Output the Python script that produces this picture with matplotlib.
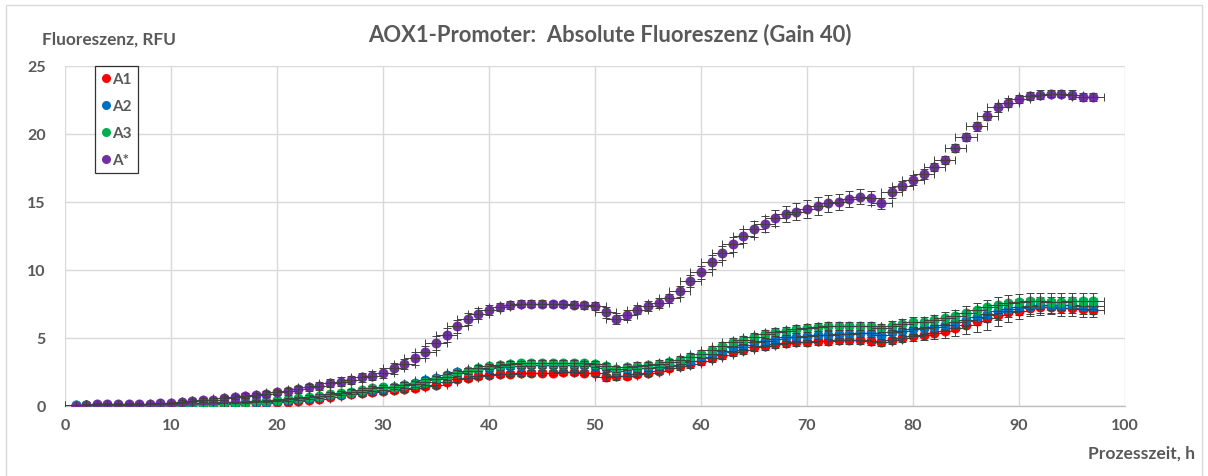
import matplotlib
matplotlib.use("Agg")
import matplotlib.pyplot as plt
from matplotlib.patches import Rectangle
from matplotlib.lines import Line2D

# Process time (h)
hours = list(range(1, 98))

# Mean fluorescence (RFU) per culture
a1 = [0.03, 0.05, 0.05, 0.05, 0.05, 0.05, 0.05, 0.07, 0.08, 0.08,
      0.10, 0.12, 0.13, 0.15, 0.17, 0.18, 0.20, 0.22, 0.24, 0.26,
      0.29, 0.35, 0.46, 0.54, 0.66, 0.78, 0.86, 0.95, 1.00, 1.07,
      1.15, 1.22, 1.35, 1.46, 1.57, 1.80, 1.95, 2.05, 2.18, 2.25,
      2.35, 2.38, 2.40, 2.43, 2.45, 2.45, 2.48, 2.48, 2.45, 2.45,
      2.11, 2.18, 2.23, 2.35, 2.45, 2.57, 2.80, 2.95, 3.10, 3.28,
      3.50, 3.75, 3.95, 4.12, 4.31, 4.43, 4.56, 4.63, 4.68, 4.73,
      4.75, 4.80, 4.85, 4.85, 4.88, 4.80, 4.68, 4.88, 5.02, 5.12,
      5.22, 5.37, 5.49, 5.71, 5.96, 6.23, 6.47, 6.72, 6.89, 7.01,
      7.18, 7.26, 7.30, 7.20, 7.20, 7.13, 7.08]
a2 = [0.05, 0.07, 0.08, 0.08, 0.08, 0.08, 0.08, 0.10, 0.10, 0.10,
      0.10, 0.15, 0.17, 0.20, 0.22, 0.25, 0.28, 0.30, 0.33, 0.38,
      0.42, 0.48, 0.58, 0.65, 0.78, 0.88, 0.95, 1.08, 1.20, 1.30,
      1.40, 1.55, 1.72, 1.90, 2.05, 2.25, 2.50, 2.60, 2.70, 2.80,
      2.88, 2.93, 2.97, 3.00, 3.00, 3.00, 3.00, 3.00, 2.98, 2.95,
      2.78, 2.60, 2.70, 2.78, 2.83, 2.90, 3.05, 3.20, 3.33, 3.58,
      3.82, 4.07, 4.36, 4.49, 4.73, 4.80, 4.93, 5.05, 5.10, 5.17,
      5.24, 5.24, 5.29, 5.29, 5.37, 5.37, 5.22, 5.42, 5.54, 5.66,
      5.71, 5.83, 5.98, 6.15, 6.35, 6.52, 6.76, 6.96, 7.13, 7.26,
      7.37, 7.43, 7.43, 7.43, 7.43, 7.37, 7.37]
a3 = [0.05, 0.08, 0.10, 0.10, 0.10, 0.10, 0.10, 0.10, 0.12, 0.12,
      0.12, 0.20, 0.20, 0.22, 0.27, 0.28, 0.32, 0.34, 0.37, 0.44,
      0.50, 0.56, 0.66, 0.71, 0.86, 0.96, 1.05, 1.18, 1.30, 1.37,
      1.42, 1.54, 1.64, 1.79, 1.95, 2.12, 2.43, 2.60, 2.77, 2.92,
      3.04, 3.10, 3.14, 3.16, 3.16, 3.16, 3.16, 3.16, 3.14, 3.10,
      2.92, 2.72, 2.87, 2.96, 3.01, 3.10, 3.21, 3.38, 3.60, 3.84,
      4.12, 4.43, 4.68, 4.88, 5.05, 5.29, 5.46, 5.54, 5.66, 5.73,
      5.83, 5.86, 5.86, 5.90, 5.90, 5.90, 5.73, 5.90, 6.05, 6.15,
      6.20, 6.32, 6.47, 6.64, 6.84, 7.06, 7.26, 7.43, 7.57, 7.62,
      7.70, 7.70, 7.68, 7.68, 7.72, 7.70, 7.70]
a_star = [0.00, 0.10, 0.15, 0.15, 0.15, 0.15, 0.15, 0.17, 0.20, 0.22,
          0.32, 0.39, 0.44, 0.47, 0.56, 0.64, 0.76, 0.81, 0.88, 1.00,
          1.08, 1.22, 1.37, 1.50, 1.67, 1.80, 1.93, 2.10, 2.23, 2.43,
          2.77, 3.09, 3.50, 3.99, 4.63, 5.22, 5.86, 6.40, 6.80, 7.07,
          7.27, 7.43, 7.52, 7.52, 7.52, 7.50, 7.50, 7.45, 7.40, 7.35,
          6.90, 6.42, 6.70, 7.08, 7.35, 7.57, 7.92, 8.42, 9.20, 9.82,
          10.60, 11.25, 11.90, 12.50, 13.00, 13.40, 13.80, 14.10, 14.30, 14.50,
          14.70, 14.90, 15.00, 15.20, 15.40, 15.30, 14.90, 15.70, 16.20, 16.60,
          17.06, 17.55, 18.10, 18.95, 19.75, 20.56, 21.35, 21.96, 22.30, 22.55,
          22.80, 22.90, 22.95, 22.95, 22.90, 22.75, 22.70]

# Standard deviations (RFU)
a1_err = [0.03] * 10 + [0.05, 0.05, 0.06, 0.06, 0.07, 0.07, 0.08, 0.08, 0.09, 0.10,
                        0.12, 0.13, 0.14, 0.15, 0.16, 0.17, 0.18, 0.18, 0.19, 0.20,
                        0.20, 0.21, 0.22, 0.22, 0.23, 0.23, 0.22, 0.22, 0.21, 0.20,
                        0.20, 0.20, 0.20, 0.20, 0.20, 0.20, 0.20, 0.20, 0.20, 0.22,
                        0.25, 0.25, 0.25, 0.25, 0.25, 0.25, 0.26, 0.27, 0.28, 0.28,
                        0.30, 0.30, 0.30, 0.30, 0.30, 0.30, 0.30, 0.30, 0.30, 0.30,
                        0.30, 0.30, 0.30, 0.30, 0.30, 0.30, 0.30, 0.32, 0.34, 0.36,
                        0.40, 0.45, 0.50, 0.55, 0.65, 0.80, 0.85, 0.85, 0.75, 0.60,
                        0.55, 0.55, 0.55, 0.55, 0.55, 0.55, 0.55]
a2_err = [0.03] * 10 + [0.05, 0.05, 0.06, 0.06, 0.07, 0.07, 0.08, 0.08, 0.09, 0.10,
                        0.12, 0.13, 0.14, 0.15, 0.16, 0.17, 0.18, 0.18, 0.19, 0.20,
                        0.20, 0.21, 0.22, 0.22, 0.23, 0.23, 0.22, 0.22, 0.21, 0.20,
                        0.20, 0.20, 0.20, 0.20, 0.20, 0.20, 0.20, 0.20, 0.20, 0.22,
                        0.25, 0.25, 0.25, 0.25, 0.25, 0.25, 0.26, 0.27, 0.28, 0.28,
                        0.30, 0.30, 0.30, 0.30, 0.30, 0.30, 0.30, 0.30, 0.30, 0.30,
                        0.30, 0.30, 0.30, 0.30, 0.30, 0.30, 0.30, 0.32, 0.34, 0.36,
                        0.38, 0.40, 0.42, 0.45, 0.50, 0.55, 0.60, 0.60, 0.60, 0.60,
                        0.60, 0.60, 0.60, 0.60, 0.60, 0.60, 0.60]
a3_err = [0.03] * 10 + [0.05, 0.05, 0.06, 0.06, 0.07, 0.07, 0.08, 0.08, 0.09, 0.10,
                        0.12, 0.13, 0.14, 0.15, 0.16, 0.17, 0.18, 0.18, 0.19, 0.20,
                        0.20, 0.21, 0.22, 0.22, 0.23, 0.23, 0.22, 0.22, 0.21, 0.20,
                        0.20, 0.20, 0.20, 0.20, 0.20, 0.20, 0.20, 0.20, 0.20, 0.22,
                        0.25, 0.25, 0.25, 0.25, 0.25, 0.25, 0.26, 0.27, 0.28, 0.28,
                        0.30, 0.30, 0.30, 0.30, 0.30, 0.30, 0.30, 0.30, 0.30, 0.30,
                        0.30, 0.30, 0.30, 0.30, 0.30, 0.30, 0.30, 0.32, 0.34, 0.36,
                        0.38, 0.40, 0.42, 0.45, 0.50, 0.52, 0.55, 0.58, 0.60, 0.60,
                        0.60, 0.60, 0.62, 0.62, 0.60, 0.60, 0.60]
a_star_err = [0.05, 0.05, 0.05, 0.05, 0.05, 0.05, 0.05, 0.05, 0.05, 0.08,
              0.10, 0.12, 0.12, 0.15, 0.15, 0.15, 0.18, 0.18, 0.20, 0.20,
              0.25, 0.25, 0.25, 0.30, 0.30, 0.30, 0.30, 0.30, 0.35, 0.35,
              0.40, 0.40, 0.45, 0.45, 0.50, 0.50, 0.50, 0.45, 0.40, 0.35,
              0.30, 0.30, 0.25, 0.25, 0.25, 0.25, 0.25, 0.25, 0.25, 0.30,
              0.40, 0.40, 0.35, 0.35, 0.35, 0.35, 0.35, 0.40, 0.45, 0.50,
              0.50, 0.50, 0.55, 0.55, 0.60, 0.60, 0.60, 0.60, 0.60, 0.65,
              0.65, 0.65, 0.60, 0.60, 0.55, 0.50, 0.40, 0.40, 0.35, 0.35,
              0.35, 0.30, 0.30, 0.30, 0.30, 0.35, 0.35, 0.35, 0.35, 0.30,
              0.30, 0.30, 0.25, 0.25, 0.30, 0.30, 0.30]

# Sampling window (h) shown as horizontal error
time_err = 1.0

series_names = ["A1", "A2", "A3", "A*"]
series_colors = ["#FF0000", "#0070C0", "#00B050", "#7030A0"]

x_ticks = [0, 10, 20, 30, 40, 50, 60, 70, 80, 90, 100]
y_ticks = [0, 5, 10, 15, 20, 25]

title = "AOX1-Promoter:  Absolute Fluoreszenz (Gain 40)"
y_label = "Fluoreszenz, RFU"
x_label = "Prozesszeit, h"

TEXT = "#595959"
GRID = "#D9D9D9"
plt.rcParams["font.family"] = ["Lato", "DejaVu Sans"]
plt.rcParams["font.weight"] = "bold"

W, H = 1208, 477
fig = plt.figure(figsize=(W / 100, H / 100), dpi=100)
ax = fig.add_axes([65 / W, 1 - 407 / H, (1125 - 65) / W, (407 - 67) / H])

values = [a1, a2, a3, a_star]
errors = [a1_err, a2_err, a3_err, a_star_err]
for i, (vals, errs, col) in enumerate(zip(values, errors, series_colors)):
    ax.plot(hours, vals, linestyle="none", marker="o", markersize=7.2,
            color=col, markeredgewidth=0, zorder=3 + 2 * i)
    ax.errorbar(hours, vals, yerr=errs, xerr=time_err, fmt="none",
                ecolor="#404040", elinewidth=0.7, capsize=2.6, capthick=0.7,
                zorder=4 + 2 * i)

ax.set_xlim(0, 100)
ax.set_ylim(0, 25)
ax.set_xticks(x_ticks)
ax.set_yticks(y_ticks)
ax.grid(True, color=GRID, linewidth=1.0, zorder=0)
ax.set_axisbelow(True)
for side in ["top", "right", "left"]:
    ax.spines[side].set_visible(False)
ax.spines["bottom"].set_color("#BFBFBF")
ax.spines["bottom"].set_linewidth(1.0)
ax.tick_params(axis="both", length=0, labelsize=11.5, labelcolor=TEXT)
ax.tick_params(axis="y", pad=14)
ax.tick_params(axis="x", pad=9)
for lab in ax.get_xticklabels() + ax.get_yticklabels():
    lab.set_fontweight("bold")

fig.text(610 / W, 1 - 35 / H, title, ha="center", va="center",
         fontsize=15.8, color=TEXT, fontweight="bold")
fig.text(42 / W, 1 - 40 / H, y_label, ha="left", va="center",
         fontsize=12.4, color=TEXT, fontweight="bold")
fig.text(1195 / W, 1 - 454 / H, x_label, ha="right", va="center",
         fontsize=12.6, color=TEXT, fontweight="bold")

handles = [Line2D([], [], linestyle="none", marker="o", markersize=6.5,
                  markeredgewidth=0, color=c) for c in series_colors]
leg = ax.legend(handles, series_names, loc="upper left",
                bbox_to_anchor=((95 - 65) / (1125 - 65), 1.0),
                frameon=True, fancybox=False, handletextpad=0.1,
                handlelength=0.6, labelspacing=0.85, borderpad=0.4,
                borderaxespad=0, prop={"weight": "bold", "size": 11})
leg.get_frame().set_edgecolor("#000000")
leg.get_frame().set_linewidth(0.9)
for t in leg.get_texts():
    t.set_color(TEXT)

fig.patches.append(Rectangle((6 / W, -0.1), (1202 - 6) / W, 1.1 - 6 / H,
                             transform=fig.transFigure, fill=False,
                             edgecolor="#D9D9D9", linewidth=1.0))

fig.savefig("out.png", dpi=100)
